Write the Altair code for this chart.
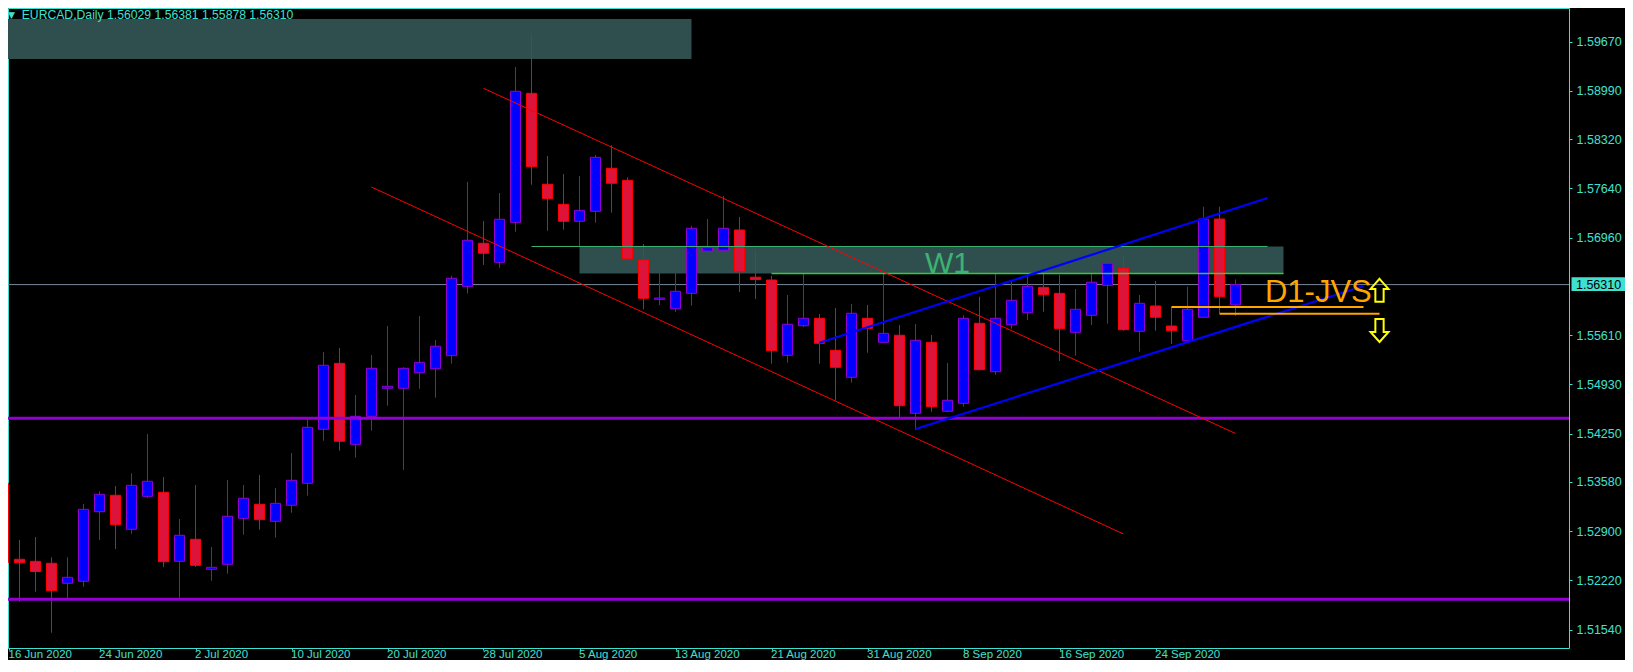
import altair as alt
import numpy as np
import pandas as pd

# ---------------- data ----------------
date_labels = ["16 Jun 2020", "24 Jun 2020", "2 Jul 2020", "10 Jul 2020", "20 Jul 2020",
               "28 Jul 2020", "5 Aug 2020", "13 Aug 2020", "21 Aug 2020", "31 Aug 2020",
               "8 Sep 2020", "16 Sep 2020", "24 Sep 2020"]
date_tick_bars = [0, 6, 12, 18, 24, 30, 36, 42, 48, 54, 60, 66, 72]
price_ticks = [1.51540, 1.52220, 1.52900, 1.53580, 1.54250, 1.54930, 1.55610,
               1.56960, 1.57640, 1.58320, 1.58990, 1.59670]

opens = [1.53562, 1.52511, 1.52483, 1.52456, 1.52179, 1.52207, 1.53169, 1.53396, 1.52926, 1.53382,
         1.53438, 1.52483, 1.52788, 1.52373, 1.52442, 1.53078, 1.53272, 1.53036, 1.53258, 1.53562,
         1.54309, 1.55221, 1.54101, 1.54488, 1.54876, 1.54876, 1.55091, 1.55147, 1.55327, 1.56286,
         1.56881, 1.56618, 1.57171, 1.58955, 1.57697, 1.57420, 1.57185, 1.57323, 1.57918, 1.57752,
         1.56650, 1.56106, 1.55976, 1.56189, 1.56774, 1.56785, 1.57065, 1.56412, 1.56373, 1.55332,
         1.55741, 1.55844, 1.55401, 1.55028, 1.55844, 1.55512, 1.55609, 1.54530, 1.55512, 1.54558,
         1.54668, 1.55775, 1.55105, 1.55755, 1.55921, 1.56272, 1.56189, 1.55650, 1.55885, 1.56300,
         1.56535, 1.55664, 1.56014, 1.55737, 1.55534, 1.55858, 1.57217, 1.56029]
highs = [1.53930, 1.52778, 1.52819, 1.52539, 1.52539, 1.53276, 1.53451, 1.53525, 1.53700, 1.54244,
         1.53649, 1.53068, 1.53538, 1.52681, 1.53608, 1.53538, 1.53677, 1.53497, 1.53981, 1.54447,
         1.55378, 1.55433, 1.54783, 1.55336, 1.55737, 1.55166, 1.55876, 1.55544, 1.56433, 1.57729,
         1.57189, 1.57576, 1.59319, 1.59775, 1.58088, 1.57839, 1.57812, 1.58102, 1.58236, 1.57794,
         1.56871, 1.56549, 1.56733, 1.57120, 1.57217, 1.57535, 1.57245, 1.56788, 1.56429, 1.56166,
         1.56456, 1.55903, 1.55986, 1.56041, 1.56028, 1.56470, 1.55751, 1.55765, 1.55613, 1.55226,
         1.55885, 1.56142, 1.56581, 1.56373, 1.56549, 1.56470, 1.56442, 1.56249, 1.56549, 1.56673,
         1.56719, 1.56166, 1.56360, 1.56004, 1.56281, 1.57387, 1.57387, 1.56381]
lows = [1.52156, 1.51925, 1.52063, 1.51496, 1.51976, 1.52132, 1.52778, 1.52653, 1.52865, 1.53363,
        1.52405, 1.51980, 1.52405, 1.52215, 1.52312, 1.52851, 1.52920, 1.52810, 1.53155, 1.53391,
        1.54151, 1.54013, 1.53916, 1.54289, 1.54635, 1.53746, 1.54870, 1.54746, 1.55216, 1.56187,
        1.56581, 1.56543, 1.57041, 1.57691, 1.57055, 1.57069, 1.56834, 1.57166, 1.57304, 1.56657,
        1.55968, 1.56028, 1.55935, 1.56018, 1.56519, 1.56519, 1.56207, 1.56111, 1.55216, 1.55230,
        1.55723, 1.55216, 1.54704, 1.54953, 1.55368, 1.55506, 1.54461, 1.54299, 1.54552, 1.54544,
        1.54621, 1.55129, 1.55060, 1.55700, 1.55820, 1.55935, 1.55253, 1.55327, 1.55751, 1.55769,
        1.55672, 1.55382, 1.55672, 1.55488, 1.55520, 1.55850, 1.55913, 1.55878]
closes = [1.52464, 1.52464, 1.52342, 1.52077, 1.52262, 1.53202, 1.53410, 1.52989, 1.53534, 1.53590,
          1.52478, 1.52843, 1.52428, 1.52400, 1.53106, 1.53355, 1.53059, 1.53285, 1.53603, 1.54336,
          1.55194, 1.54143, 1.54488, 1.55152, 1.54903, 1.55152, 1.55235, 1.55457, 1.56397, 1.56922,
          1.56743, 1.57213, 1.58983, 1.57940, 1.57498, 1.57185, 1.57337, 1.58070, 1.57711, 1.56668,
          1.56120, 1.56124, 1.56217, 1.57088, 1.56820, 1.57088, 1.56488, 1.56380, 1.55396, 1.55761,
          1.55844, 1.55498, 1.55166, 1.55913, 1.55705, 1.55636, 1.54635, 1.55539, 1.54621, 1.54710,
          1.55844, 1.55133, 1.55844, 1.56093, 1.56286, 1.56170, 1.55700, 1.55968, 1.56342, 1.56604,
          1.55686, 1.56051, 1.55858, 1.55672, 1.55968, 1.57217, 1.56142, 1.56310]

# supply / demand zones (bar index from-to, price top/bottom)
zone_x1 = [-2, 36]
zone_x2 = [43, 80]
zone_top = [1.59983, 1.56837]
zone_bot = [1.59429, 1.56463]

# horizontal levels across the whole chart
level_prices = [1.54461, 1.51958]
current_price = 1.56310

# trend / channel segments: bar1, price1, bar2, price2
red_x1 = [30, 23]; red_y1 = [1.59024, 1.57659]; red_x2 = [77, 70]; red_y2 = [1.54251, 1.52861]
blue_x1 = [51, 57]; blue_y1 = [1.55506, 1.54313]; blue_x2 = [79, 85]; blue_y2 = [1.57507, 1.56290]
orange_x1 = [73, 76]; orange_x2 = [85, 86]; orange_y = [1.56000, 1.55907]
green_top = (33, 79, 1.56837)
lime_bot = (48, 80, 1.56463)

header_text = "EURCAD,Daily  1.56029 1.56381 1.55878 1.56310"

# ---------------- styling ----------------
CYAN = "#40E0D0"
FONT = "Liberation Sans"
X_DOMAIN = [0.28125, 97.84375]
Y_DOMAIN = [1.512844, 1.601347]
xs = alt.Scale(domain=X_DOMAIN, nice=False, zero=False)
ys = alt.Scale(domain=Y_DOMAIN, nice=False, zero=False)

# the first date tick sits on the chart's left edge (the bar itself is half cut off)
tick_positions = [max(v, X_DOMAIN[0] + 0.07) for v in date_tick_bars]
labels_js = "[" + ",".join("'%s'" % d for d in date_labels) + "]"
x_axis = alt.Axis(values=tick_positions, labelExpr=labels_js + "[round(datum.value / 6)]",
                  labelAlign="left", labelBaseline="alphabetic", labelColor=CYAN, labelFont=FONT,
                  labelFontSize=11.5, labelPadding=7.5, tickColor=CYAN, tickSize=2,
                  labelOffset=-1, domain=False, grid=False, labelFlush=False,
                  labelOverlap=False, labelBound=False, title=None)
y_axis = alt.Axis(orient="right", values=price_ticks, format=".5f", labelColor=CYAN,
                  labelFont=FONT, labelFontSize=12.5, labelPadding=4, tickColor=CYAN,
                  tickSize=3, domain=False, grid=False, labelFlush=False,
                  labelOverlap=False, title=None)


def X(f):
    return alt.X(f, type="quantitative", scale=xs, axis=x_axis)


def Y(f):
    return alt.Y(f, type="quantitative", scale=ys, axis=y_axis)


df = pd.DataFrame({"i": np.arange(len(opens)), "open": opens, "high": highs,
                   "low": lows, "close": closes})
bull = df["close"] >= df["open"]
df["x1"] = df["i"] - 0.3125
df["x2"] = df["i"] + 0.3125
df["lo"] = df[["open", "close"]].min(axis=1)
df["hi"] = df[["open", "close"]].max(axis=1)
df["fillc"] = np.where(bull, "#0000FF", "#DC143C")
df["edge"] = np.where(bull, "#9400D3", "#FF0000")

zones = alt.Chart(pd.DataFrame({"x1": zone_x1, "x2": zone_x2, "t": zone_top, "b": zone_bot})
                  ).mark_rect(color="#2F4F4F", clip=True).encode(
    x=X("x1"), x2="x2:Q", y=Y("t"), y2="b:Q")

price_line = alt.Chart(pd.DataFrame({"p": [current_price]})).mark_rule(
    color="#778899", strokeWidth=1).encode(y=Y("p"))

wicks = alt.Chart(df).mark_rule(strokeWidth=1).encode(
    x=X("i"), y=Y("low"), y2="high:Q",
    color=alt.Color("edge:N", scale=None))

bodies = alt.Chart(df).mark_rect(strokeWidth=1).encode(
    x=X("x1"), x2="x2:Q", y=Y("lo"), y2="hi:Q",
    fill=alt.Fill("fillc:N", scale=None), stroke=alt.Stroke("edge:N", scale=None))

levels = alt.Chart(pd.DataFrame({"p": level_prices})).mark_rule(
    color="#9400D3", strokeWidth=3).encode(y=Y("p"))

green_df = pd.DataFrame({"x1": [green_top[0]], "x2": [green_top[1]], "p": [green_top[2]]})
lime_df = pd.DataFrame({"x1": [lime_bot[0]], "x2": [lime_bot[1]], "p": [lime_bot[2]]})
green_line = alt.Chart(green_df).mark_rule(color="#3CB371", strokeWidth=1).encode(
    x=X("x1"), x2="x2:Q", y=Y("p"))
lime_line = alt.Chart(lime_df).mark_rule(color="#32CD32", strokeWidth=1.5).encode(
    x=X("x1"), x2="x2:Q", y=Y("p"))

red_lines = alt.Chart(pd.DataFrame({"x1": red_x1, "y1": red_y1, "x2": red_x2, "y2": red_y2})
                      ).mark_rule(color="#FF0000", strokeWidth=1).encode(
    x=X("x1"), y=Y("y1"), x2="x2:Q", y2="y2:Q")
blue_lines = alt.Chart(pd.DataFrame({"x1": blue_x1, "y1": blue_y1, "x2": blue_x2, "y2": blue_y2})
                       ).mark_rule(color="#0000FF", strokeWidth=2.2).encode(
    x=X("x1"), y=Y("y1"), x2="x2:Q", y2="y2:Q")
orange_lines = alt.Chart(pd.DataFrame({"x1": orange_x1, "x2": orange_x2, "p": orange_y})
                         ).mark_rule(color="#FFA500", strokeWidth=2).encode(
    x=X("x1"), x2="x2:Q", y=Y("p"))

w1_text = alt.Chart(pd.DataFrame({"x": [59], "p": [1.56474], "t": ["W1"]})).mark_text(
    font=FONT, fontSize=30, color="#3CB371", align="center", baseline="alphabetic").encode(
    x=X("x"), y=Y("p"), text="t:N")
jvs_text = alt.Chart(pd.DataFrame({"x": [78.84], "p": [1.56073], "t": ["D1-JVS"]})).mark_text(
    font=FONT, fontSize=31, color="#FFA500", align="left", baseline="alphabetic").encode(
    x=X("x"), y=Y("p"), text="t:N")

UP = "M0,-1L0.78,-0.12L0.36,-0.12L0.36,1L-0.36,1L-0.36,-0.12L-0.78,-0.12Z"
DOWN = "M0,1L0.78,0.12L0.36,0.12L0.36,-1L-0.36,-1L-0.36,0.12L-0.78,0.12Z"
arrow_up = alt.Chart(pd.DataFrame({"x": [86], "p": [1.56231]})).mark_point(
    shape=UP, size=529, filled=False, stroke="#FFFF00", strokeWidth=2, opacity=1).encode(
    x=X("x"), y=Y("p"))
arrow_dn = alt.Chart(pd.DataFrame({"x": [86], "p": [1.55675]})).mark_point(
    shape=DOWN, size=529, filled=False, stroke="#FFFF00", strokeWidth=2, opacity=1).encode(
    x=X("x"), y=Y("p"))

header = alt.Chart(pd.DataFrame({"x": [1.1375], "p": [1.59980], "t": [header_text]})).mark_text(
    font=FONT, fontSize=12.2, color=CYAN, align="left", baseline="alphabetic").encode(
    x=X("x"), y=Y("p"), text="t:N")
header_tri = alt.Chart(pd.DataFrame({"x": [0.5], "p": [1.60003], "t": ["\u25BC"]})).mark_text(
    font="DejaVu Sans", fontSize=9, color=CYAN, align="center", baseline="alphabetic").encode(
    x=X("x"), y=Y("p"), text="t:N")

price_box = alt.Chart(pd.DataFrame({"x1": [98.0], "x2": [101.45], "t": [1.56411], "b": [1.56221]})
                      ).mark_rect(color=CYAN).encode(x=X("x1"), x2="x2:Q", y=Y("t"), y2="b:Q")
price_txt = alt.Chart(pd.DataFrame({"x": [98.28], "p": [current_price], "t": ["1.56310"]})
                      ).mark_text(font=FONT, fontSize=12.5, color="#000000", align="left",
                                  baseline="middle").encode(x=X("x"), y=Y("p"), text="t:N")

chart = alt.layer(
    zones, price_line, wicks, bodies, levels, green_line, lime_line, red_lines, blue_lines,
    orange_lines, w1_text, jvs_text, arrow_up, arrow_dn, header_tri, header, price_box, price_txt
).properties(
    width=1561, height=640,
    padding={"left": 0, "top": 0, "right": 56, "bottom": 12},
    autosize=alt.AutoSizeParams(type="none"),
    background="#000000",
).configure_view(stroke=CYAN, strokeWidth=1)

chart.save("out.html", embed_options={"renderer": "svg", "actions": False})
